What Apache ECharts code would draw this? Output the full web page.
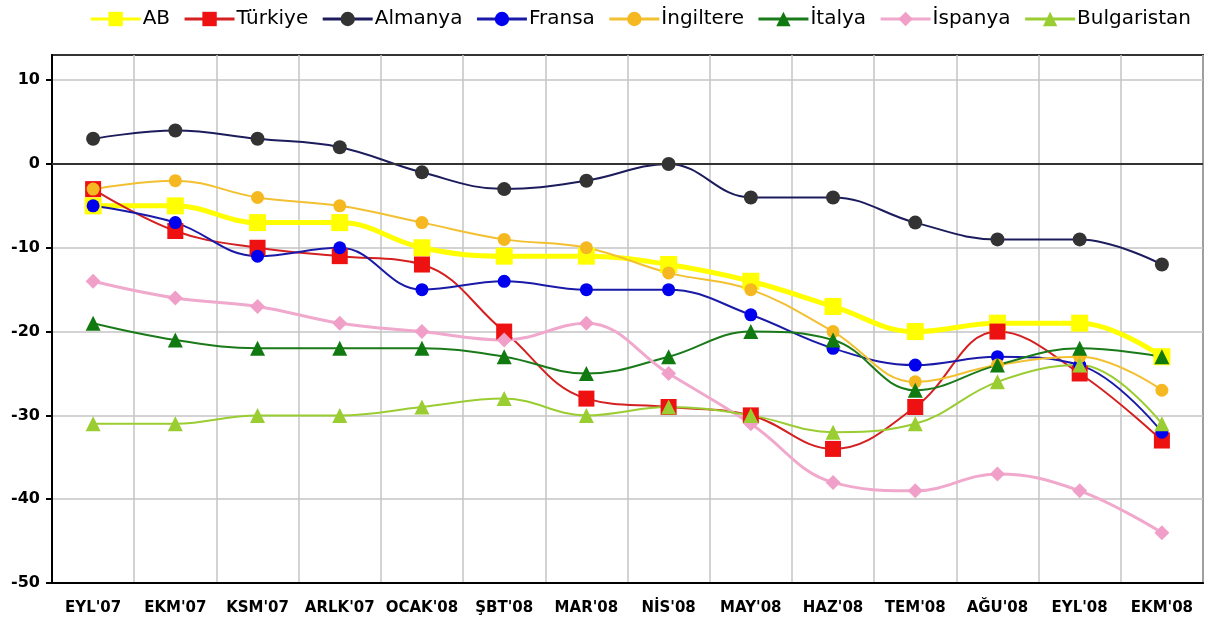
<!DOCTYPE html>
<html>
<head>
<meta charset="utf-8">
<script src="https://cdn.jsdelivr.net/npm/echarts@6/dist/echarts.min.js"></script>
<style>html,body{margin:0;padding:0;background:#fff}#c{width:1210px;height:625px}</style>
</head>
<body>
<div id="c"></div>
<script>
const categories = ["EYL'07","EKM'07","KSM'07","ARLK'07","OCAK'08","ŞBT'08","MAR'08","NİS'08","MAY'08","HAZ'08","TEM'08","AĞU'08","EYL'08","EKM'08"];
const ab          = [-5,-5,-7,-7,-10,-11,-11,-12,-14,-17,-20,-19,-19,-23];
const turkiye     = [-3,-8,-10,-11,-12,-20,-28,-29,-30,-34,-29,-20,-25,-33];
const almanya     = [3,4,3,2,-1,-3,-2,0,-4,-4,-7,-9,-9,-12];
const fransa      = [-5,-7,-11,-10,-15,-14,-15,-15,-18,-22,-24,-23,-24,-32];
const ingiltere   = [-3,-2,-4,-5,-7,-9,-10,-13,-15,-20,-26,-24,-23,-27];
const italya      = [-19,-21,-22,-22,-22,-23,-25,-23,-20,-21,-27,-24,-22,-23];
const ispanya     = [-14,-16,-17,-19,-20,-21,-19,-25,-31,-38,-39,-37,-39,-44];
const bulgaristan = [-31,-31,-30,-30,-29,-28,-30,-29,-30,-32,-31,-26,-24,-31];
const yTicks = [-50,-40,-30,-20,-10,0,10];

function mk(name, data, lineColor, markColor, symbol, size, width, extra) {
  return Object.assign({
    name: name, type: 'line', data: data, smooth: 0.4,
    symbol: symbol, symbolSize: size,
    lineStyle: { color: lineColor, width: width },
    itemStyle: { color: markColor, borderWidth: 0 },
    emphasis: { disabled: true }
  }, extra || {});
}

const chart = echarts.init(document.getElementById('c'));
chart.setOption({
  animation: false,
  backgroundColor: '#fff',
  legend: {
    top: 4, right: 14, itemWidth: 50, itemHeight: 18, itemGap: 13,
    lineStyle: { width: 3 },
    textStyle: { fontFamily: 'DejaVu Sans', fontSize: 20, color: '#000', padding: [0,0,0,-3] }
  },
  grid: { left: 52, right: 7, top: 55, bottom: 42, show: true, borderColor: '#333', borderWidth: 2, backgroundColor: '#fff' },
  xAxis: {
    type: 'category', data: categories, boundaryGap: true,
    axisLine: { onZero: false, lineStyle: { color: '#000', width: 2 } },
    axisTick: { show: false },
    splitLine: { show: true, lineStyle: { color: '#c4c4c4', width: 1.5 } },
    axisLabel: { fontFamily: 'DejaVu Sans', fontWeight: 'bold', fontSize: 15, color: '#000', margin: 18, interval: 0 }
  },
  yAxis: {
    type: 'value', min: -50, max: 13, interval: 10,
    axisLine: { show: true, lineStyle: { color: '#000', width: 2 } },
    axisTick: { show: true, length: 6, customValues: yTicks, lineStyle: { color: '#000', width: 2 } },
    splitLine: { show: true, lineStyle: { color: '#c4c4c4', width: 1.5 } },
    axisLabel: {
      fontFamily: 'DejaVu Sans', fontWeight: 'bold', fontSize: 16, color: '#000', margin: 12,
      customValues: yTicks,
      formatter: function (v) { return yTicks.indexOf(v) >= 0 ? String(v) : ''; }
    }
  },
  series: [
    mk('AB', ab, '#ffff00', '#ffff00', 'rect', 17, 5, {
      markLine: { silent: true, symbol: 'none', label: { show: false },
        lineStyle: { color: '#333', width: 2, type: 'solid' }, data: [{ yAxis: 0 }] }
    }),
    mk('Türkiye', turkiye, '#d42020', '#ee1111', 'rect', 16, 2),
    mk('Almanya', almanya, '#1c1c5c', '#333333', 'circle', 14, 2),
    mk('Fransa', fransa, '#1a1aa8', '#0000ee', 'circle', 13, 2),
    mk('İngiltere', ingiltere, '#f2c030', '#f5b820', 'circle', 13, 2),
    mk('İtalya', italya, '#1a7a1a', '#107a10', 'triangle', 15, 2),
    mk('İspanya', ispanya, '#f0a8cc', '#f0a0c8', 'diamond', 15, 3),
    mk('Bulgaristan', bulgaristan, '#9acd32', '#9acd32', 'triangle', 15, 2)
  ]
});
</script>
</body>
</html>
